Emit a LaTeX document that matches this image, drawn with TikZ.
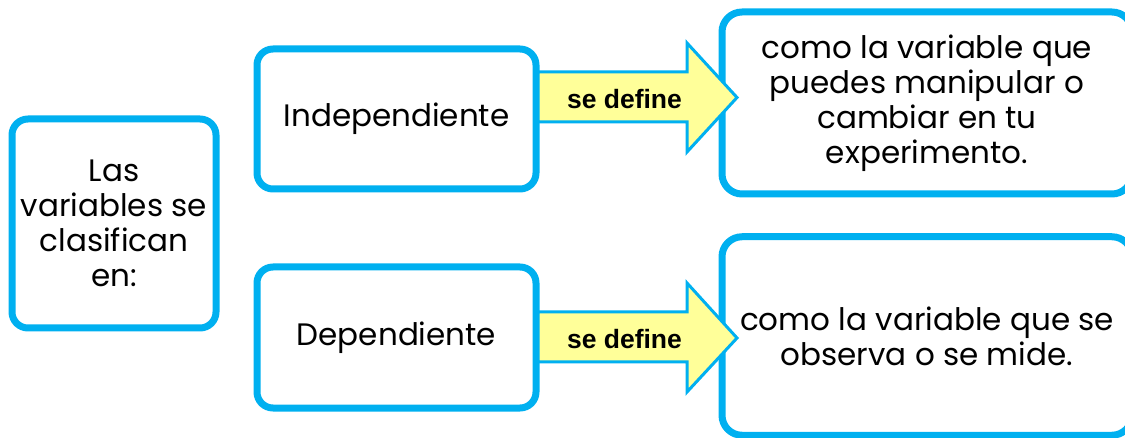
\documentclass[tikz,border=0pt]{standalone}
\usepackage{fontspec}
\setmainfont{Poppins}
\newfontfamily\labelfont{Liberation Sans}
\definecolor{boxblue}{HTML}{00B0F0}
\definecolor{arrowyellow}{HTML}{FFFF99}
\begin{document}
\begin{tikzpicture}[x=1pt,y=-1pt,
  box/.style={draw=boxblue, line width=7pt, fill=white, rounded corners=16pt,
    align=center, inner sep=0pt, font=\fontsize{31}{35}\selectfont, text=black},
  bigarrow/.style={draw=boxblue, line width=3pt, fill=arrowyellow, line join=miter},
  arrowlabel/.style={font=\labelfont\bfseries\fontsize{26.5}{30}\selectfont, text=black, inner sep=0pt}
]
\useasboundingbox (0,0) rectangle (1125,438);
\node[box, minimum width=204pt, minimum height=209pt] (las) at (114,223.5)
  {Las\\variables se\\clasifican\\en:};
\node[box, minimum width=279pt, minimum height=140pt] (ind) at (396.5,119) {Independiente};
\node[box, minimum width=279pt, minimum height=141pt] (dep) at (396.5,337.5) {Dependiente};
\node[box, minimum width=410pt, minimum height=182pt, rounded corners=20pt] (def1) at (927,103)
  {como la variable que\\puedes manipular o\\cambiar en tu\\experimento.};
\node[box, minimum width=410pt, minimum height=198.5pt, rounded corners=20pt] (def2) at (927,336)
  {como la variable que se\\observa o se mide.};
% arrows
\draw[bigarrow] (538,72) -- (687,72) -- (687,43) -- (737,97.5) -- (687,152) -- (687,122) -- (538,122) -- cycle;
\node[arrowlabel] (lab1) at (624.5,99) {se define};
\draw[bigarrow] (538,312) -- (687,312) -- (687,283) -- (737,338) -- (687,392) -- (687,362) -- (538,362) -- cycle;
\node[arrowlabel] (lab2) at (624.5,339) {se define};
\end{tikzpicture}
\end{document}
